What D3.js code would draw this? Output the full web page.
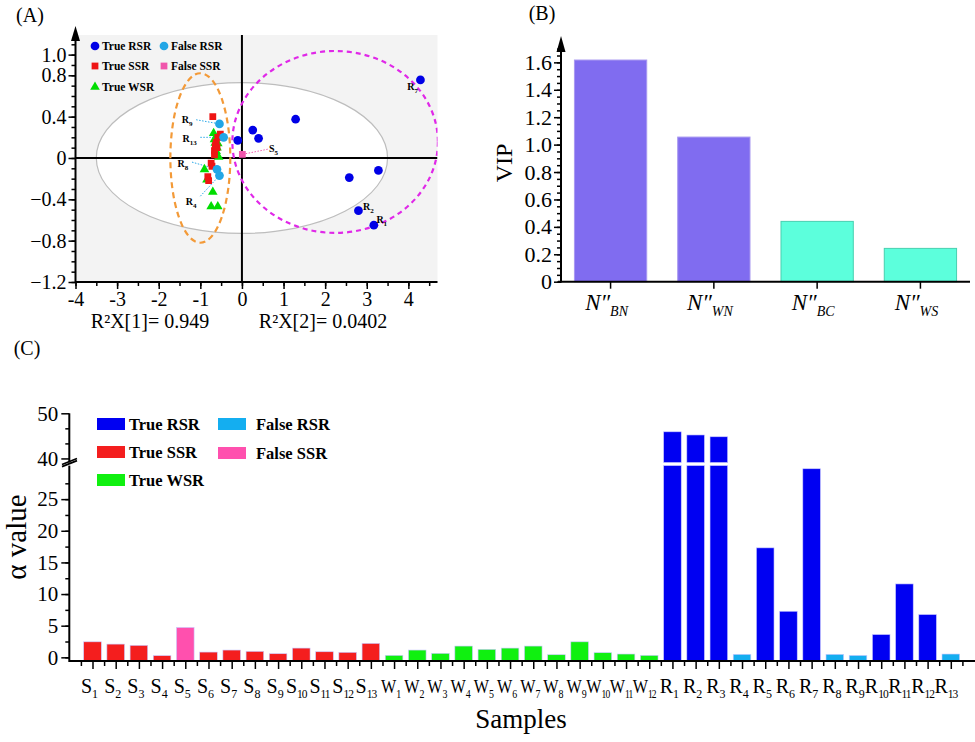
<!DOCTYPE html>
<html><head><meta charset="utf-8">
<script src="https://cdn.jsdelivr.net/npm/d3@7"></script>
<style>
body{margin:0;background:#fff}
svg{display:block}
text{font-family:"Liberation Serif","Times New Roman",serif;fill:#000}
</style>
</head><body><svg id="c" width="975" height="742"></svg>
<script>
// ---------- DATA ----------
// Panel A: PLS-DA score plot (t[1], t[2])
const trueRSR  = [[4.29,0.755],[1.29,0.375],[0.26,0.27],[0.40,0.19],[-0.10,0.17],[3.28,-0.12],[2.58,-0.19],[2.80,-0.51],[3.17,-0.65]];
const falseRSR = [[-0.54,0.33],[-0.44,0.20],[-0.60,-0.11],[-0.54,-0.17]];
const trueSSR  = [[-0.70,0.40],[-0.52,0.23],[-0.58,0.20],[-0.62,0.15],[-0.66,0.07],[-0.60,0.10],[-0.74,-0.05],[-0.72,-0.08],[-0.82,-0.18],[-0.80,-0.22],[-0.64,0.12],[-0.66,0.03]];
const falseSSR = [[0.01,0.035]];
const trueWSR  = [[-0.68,0.24],[-0.64,0.145],[-0.58,0.14],[-0.62,0.065],[-0.60,0.10],[-0.56,0.01],[-0.90,-0.11],[-0.84,-0.21],[-0.70,-0.33],[-0.74,-0.47],[-0.58,-0.47],[-0.66,0.18]];
// point annotations: label, subscript, label pos, optional leader line start, target point
const pointLabels = [
  {t:"R",s:"9",  x:-1.32,y:0.38, lx:-1.10,ly:0.37, px:-0.54,py:0.33, c:"#2aa8e8"},
  {t:"R",s:"13", x:-1.26,y:0.19, lx:-1.00,ly:0.20, px:-0.44,py:0.20, c:"#2aa8e8"},
  {t:"R",s:"8",  x:-1.42,y:-0.05,lx:-1.20,ly:-0.04,px:-0.60,py:-0.11,c:"#2aa8e8"},
  {t:"R",s:"4",  x:-1.22,y:-0.42,lx:-1.00,ly:-0.37,px:-0.54,py:-0.17,c:"#2aa8e8"},
  {t:"S",s:"5",  x:0.76, y:0.10, lx:0.62, ly:0.085,px:0.01, py:0.035,c:"#f060b0"},
  {t:"R",s:"7",  x:4.10, y:0.70},
  {t:"R",s:"2",  x:3.04, y:-0.46},
  {t:"R",s:"1",  x:3.36, y:-0.59}
];
const xTicksA = [-4,-3,-2,-1,0,1,2,3,4];
const yTicksA = [1.0,0.8,0.4,0,-0.4,-0.8,-1.2];
const r2x1 = "0.949", r2x2 = "0.0402";

// Panel B: VIP
const vipVars = ["BN","WN","BC","WS"];
const vipValues = [1.617,1.055,0.44,0.243];
const yTicksB = [0,0.2,0.4,0.6,0.8,1.0,1.2,1.4,1.6];

// Panel C: alpha values
const sampleLetters = ["S","S","S","S","S","S","S","S","S","S","S","S","S","W","W","W","W","W","W","W","W","W","W","W","W","R","R","R","R","R","R","R","R","R","R","R","R","R"];
const sampleNums = [1,2,3,4,5,6,7,8,9,10,11,12,13,1,2,3,4,5,6,7,8,9,10,11,12,1,2,3,4,5,6,7,8,9,10,11,12,13];
const alphaValues = [2.45,2.09,1.89,0.26,4.72,0.83,1.15,0.94,0.57,1.46,0.88,0.79,2.2,
  0.31,1.15,0.63,1.78,1.26,1.46,1.78,0.41,2.45,0.73,0.52,0.31,
  45.9,45.2,44.8,0.47,17.3,7.28,29.8,0.47,0.30,3.6,11.6,6.76,0.52];
const sampleClass = ["TS","TS","TS","TS","FS","TS","TS","TS","TS","TS","TS","TS","TS",
  "TW","TW","TW","TW","TW","TW","TW","TW","TW","TW","TW","TW",
  "TR","TR","TR","FR","TR","TR","TR","FR","FR","TR","TR","TR","FR"];
const yTicksCLow = [0,5,10,15,20,25];
const yTicksCHigh = [40,50];

const classNames = {TR:"True RSR",FR:"False RSR",TS:"True SSR",FS:"False SSR",TW:"True WSR"};
const colA = {TR:"#0000e6",FR:"#22a6e6",TS:"#ee1414",FS:"#f055ac",TW:"#00dd00"};
const colC = {TR:"#0000f2",FR:"#14aef0",TS:"#f41e1e",FS:"#ff50ae",TW:"#10f010"};

// ---------- DRAW ----------
const SERIF = '"Liberation Serif","Times New Roman",serif';
const svg = d3.select("#c").attr("font-family",SERIF);
function styleAxis(g, fs){
  g.attr("font-family",SERIF).attr("font-size",fs);
  g.selectAll("path.domain").remove();
  g.selectAll("line").attr("stroke","#000").attr("stroke-width",1.5);
  g.selectAll("text").attr("font-family",SERIF).style("font-family",SERIF).style("font-size",fs+"px");
}
function subText(g, x, y, main, sub, fs, sfs, opts={}){
  const t = g.append("text").attr("x",x).attr("y",y).style("font-size",fs+"px");
  if(opts.anchor) t.attr("text-anchor",opts.anchor);
  if(opts.bold) t.style("font-weight","bold");
  t.append("tspan").text(main);
  t.append("tspan").attr("dy",opts.dy||fs*0.3).style("font-size",sfs+"px").text(sub);
  return t;
}

// ===== Panel A =====
const xA = d3.scaleLinear().domain([-4,4.7]).range([75.5,437.5]);
const yA = d3.scaleLinear().domain([-1.2,1.19]).range([282,35]);
const gA = svg.append("g");
svg.append("defs").append("clipPath").attr("id","clipA").append("rect")
  .attr("x",xA(-4)).attr("y",yA(1.19)).attr("width",xA(4.7)-xA(-4)).attr("height",yA(-1.2)-yA(1.19));
gA.append("rect").attr("x",xA(-4)).attr("y",yA(1.19)).attr("width",xA(4.7)-xA(-4)).attr("height",yA(-1.2)-yA(1.19)).attr("fill","#f3f3f3");
const gAc = gA.append("g").attr("clip-path","url(#clipA)");
gAc.append("ellipse").attr("cx",xA(0)).attr("cy",yA(0)).attr("rx",xA(3.5)-xA(0)).attr("ry",yA(0)-yA(0.73))
  .attr("fill","#fff").attr("stroke","#bdbdbd").attr("stroke-width",1.2);
gAc.append("line").attr("x1",xA(-4)).attr("x2",xA(4.7)).attr("y1",yA(0)).attr("y2",yA(0)).attr("stroke","#000").attr("stroke-width",2);
gAc.append("line").attr("x1",xA(0)).attr("x2",xA(0)).attr("y1",yA(1.19)).attr("y2",yA(-1.2)).attr("stroke","#000").attr("stroke-width",2);
gAc.append("ellipse").attr("cx",xA(-1.0)).attr("cy",yA(0.0)).attr("rx",xA(0.72)-xA(0)).attr("ry",yA(0)-yA(0.82))
  .attr("fill","none").attr("stroke","#f39a38").attr("stroke-width",2.2).attr("stroke-dasharray","6,4");
gAc.append("ellipse").attr("cx",xA(2.24)).attr("cy",yA(0.155)).attr("rx",xA(2.47)-xA(0)).attr("ry",yA(0)-yA(0.88))
  .attr("fill","none").attr("stroke","#e028e8").attr("stroke-width",2.2).attr("stroke-dasharray","5,4");
// leader lines
pointLabels.filter(d=>d.lx!==undefined).forEach(d=>{
  gAc.append("line").attr("x1",xA(d.lx)).attr("y1",yA(d.ly)).attr("x2",xA(d.px)).attr("y2",yA(d.py))
    .attr("stroke",d.c).attr("stroke-width",1).attr("stroke-dasharray","1.5,1.5");
});
// points
const sym = {circle:d3.symbol().type(d3.symbolCircle).size(60), square:d3.symbol().type(d3.symbolSquare).size(46), tri:d3.symbol().type(d3.symbolTriangle).size(40)};
function drawPts(data, s, c){
  gAc.selectAll(null).data(data).enter().append("path").attr("d",sym[s])
    .attr("transform",d=>`translate(${xA(d[0])},${yA(d[1])})`).attr("fill",c).attr("stroke","none");
}
drawPts(trueWSR,"tri",colA.TW);
drawPts(trueSSR,"square",colA.TS);
drawPts(falseRSR,"circle",colA.FR);
drawPts(falseSSR,"square",colA.FS);
drawPts(trueRSR,"circle",colA.TR);
pointLabels.forEach(d=>{
  subText(gA, xA(d.x), yA(d.y)+4, d.t, d.s, 10, 7, {bold:true, dy:3, anchor:"middle"});
});
// axes
const axAy = gA.append("g").attr("transform",`translate(${xA(-4)},0)`)
  .call(d3.axisLeft(yA).tickValues(d3.range(-12,12).map(v=>v/10)).tickSize(4).tickFormat(""));
styleAxis(axAy,20);
const axAy2 = gA.append("g").attr("transform",`translate(${xA(-4)},0)`)
  .call(d3.axisLeft(yA).tickValues(yTicksA).tickSize(7).tickPadding(2).tickFormat(d=>d===0?"0":d3.format(".1f")(d)));
styleAxis(axAy2,20);
gA.append("line").attr("x1",xA(-4)).attr("x2",xA(-4)).attr("y1",yA(-1.2)+1).attr("y2",yA(1.19)-2).attr("stroke","#000").attr("stroke-width",2);
gA.append("path").attr("d",`M${xA(-4)-4.5},${yA(1.19)+6} L${xA(-4)},${yA(1.19)-9} L${xA(-4)+4.5},${yA(1.19)+6} Z`).attr("fill","#000");
const axAx = gA.append("g").attr("transform",`translate(0,${yA(-1.2)})`)
  .call(d3.axisBottom(xA).tickValues(d3.range(-8,10).map(v=>v/2)).tickSize(4).tickFormat(""));
styleAxis(axAx,20);
const axAx2 = gA.append("g").attr("transform",`translate(0,${yA(-1.2)})`)
  .call(d3.axisBottom(xA).tickValues(xTicksA).tickSize(7).tickPadding(3).tickFormat(d=>String(d)));
styleAxis(axAx2,20);
gA.append("line").attr("x1",xA(-4)).attr("x2",xA(4.7)).attr("y1",yA(-1.2)).attr("y2",yA(-1.2)).attr("stroke","#000").attr("stroke-width",2);
gA.append("text").attr("x",150).attr("y",328).attr("text-anchor","middle").style("font-size","20px").text("R\u00B2X[1]= "+r2x1);
gA.append("text").attr("x",323).attr("y",328).attr("text-anchor","middle").style("font-size","20px").text("R\u00B2X[2]= "+r2x2);
gA.append("text").attr("x",30).attr("y",22).attr("text-anchor","middle").style("font-size","20px").text("(A)");
// legend A
const legA = [["TR","circle",95,46],["FR","circle",164,46],["TS","square",95,66],["FS","square",164,66],["TW","tri",95,87]];
legA.forEach(([k,s,x,y])=>{
  gA.append("path").attr("d",sym[s]).attr("transform",`translate(${x},${y})`).attr("fill",colA[k]);
  gA.append("text").attr("x",x+7).attr("y",y+4).style("font-size","11.5px").style("font-weight","bold").text(classNames[k]);
});

// ===== Panel B =====
const gB = svg.append("g");
const xB = d3.scaleBand().domain(vipVars).range([561,970]).paddingInner(0.3).paddingOuter(0.13);
const yB = d3.scaleLinear().domain([0,1.785]).range([281.7,37]);
gB.selectAll(null).data(vipVars).enter().append("rect")
  .attr("x",d=>xB(d)).attr("width",xB.bandwidth())
  .attr("y",(d,i)=>yB(vipValues[i])).attr("height",(d,i)=>yB(0)-yB(vipValues[i]))
  .attr("fill",(d,i)=>i<2?"#806cf0":"#5cffdc").attr("stroke",(d,i)=>i<2?"#a898f0":"#48d0b0").attr("stroke-width",1);
const axBy1 = gB.append("g").attr("transform","translate(561,0)")
  .call(d3.axisLeft(yB).tickValues(d3.range(0,35).map(v=>v/20)).tickSize(4).tickFormat(""));
styleAxis(axBy1,21);
const axBy2 = gB.append("g").attr("transform","translate(561,0)")
  .call(d3.axisLeft(yB).tickValues(yTicksB).tickSize(7).tickPadding(2).tickFormat(d=>d===0?"0":d3.format(".1f")(d)));
styleAxis(axBy2,22);
gB.append("line").attr("x1",561).attr("x2",561).attr("y1",282.5).attr("y2",44).attr("stroke","#000").attr("stroke-width",2);
gB.append("path").attr("d",`M556.5,52 L561,36 L565.5,52 Z`).attr("fill","#000");
const axBx = gB.append("g").attr("transform","translate(0,281.7)")
  .call(d3.axisBottom(xB).tickSize(7).tickFormat(""));
styleAxis(axBx,20);
gB.append("line").attr("x1",558).attr("x2",970).attr("y1",281.7).attr("y2",281.7).attr("stroke","#000").attr("stroke-width",2);
vipVars.forEach(v=>{
  const t = gB.append("text").attr("x",xB(v)+xB.bandwidth()/2-4).attr("y",310).attr("text-anchor","middle")
    .style("font-size","23px").style("font-style","italic");
  t.append("tspan").text("N\u2033");
  t.append("tspan").attr("dy",6).style("font-size","14px").text(v);
});
gB.append("text").attr("transform","translate(512,163) rotate(-90)").attr("text-anchor","middle").style("font-size","24px").text("VIP");
gB.append("text").attr("x",542).attr("y",20).attr("text-anchor","middle").style("font-size","20px").text("(B)");

// ===== Panel C =====
const gC = svg.append("g");
const xC = d3.scaleLinear().domain([0,39]).range([69.3,974]);
const yLow = d3.scaleLinear().domain([-0.58,30.3]).range([661,465.6]);
const yHigh = d3.scaleLinear().domain([39.1,50]).range([462.5,413.3]);
const bw = 17.6;
const bars = gC.selectAll(null).data(alphaValues).enter().append("g");
bars.append("rect").attr("x",(d,i)=>xC(i+1)-bw/2).attr("width",bw)
  .attr("y",d=>d>30.3?yLow(30.3):yLow(d)).attr("height",d=>yLow(-0.58)-(d>30.3?yLow(30.3):yLow(d)))
  .attr("fill",(d,i)=>colC[sampleClass[i]]).attr("stroke","#c8c8ff").attr("stroke-width",0.6);
bars.filter(d=>d>30.3).append("rect").attr("x",function(){return +d3.select(this.parentNode).select("rect").attr("x");}).attr("width",bw)
  .attr("y",d=>yHigh(d)).attr("height",d=>yHigh(39.1)-yHigh(d))
  .attr("fill","#0000f2").attr("stroke","#c8c8ff").attr("stroke-width",0.6);
// y axis (broken)
const axCl1 = gC.append("g").attr("transform","translate(69.3,0)")
  .call(d3.axisLeft(yLow).tickValues(d3.range(0,12).map(v=>v*2.5)).tickSize(4).tickFormat(""));
styleAxis(axCl1,20);
const axCl2 = gC.append("g").attr("transform","translate(69.3,0)")
  .call(d3.axisLeft(yLow).tickValues(yTicksCLow).tickSize(8).tickPadding(3).tickFormat(d3.format("d")));
styleAxis(axCl2,21);
const axCh1 = gC.append("g").attr("transform","translate(69.3,0)")
  .call(d3.axisLeft(yHigh).tickValues([43.33,46.67]).tickSize(4).tickFormat(""));
styleAxis(axCh1,20);
const axCh2 = gC.append("g").attr("transform","translate(69.3,0)")
  .call(d3.axisLeft(yHigh).tickValues(yTicksCHigh).tickSize(8).tickPadding(3).tickFormat(d3.format("d")));
styleAxis(axCh2,21);
gC.append("line").attr("x1",69.3).attr("x2",69.3).attr("y1",662).attr("y2",yLow(30.3)).attr("stroke","#000").attr("stroke-width",2);
gC.append("line").attr("x1",69.3).attr("x2",69.3).attr("y1",yHigh(39.1)).attr("y2",yHigh(50)).attr("stroke","#000").attr("stroke-width",2);
gC.append("line").attr("x1",62).attr("x2",77).attr("y1",yLow(30.3)+1).attr("y2",yLow(30.3)-5).attr("stroke","#000").attr("stroke-width",1.8);
gC.append("line").attr("x1",62).attr("x2",77).attr("y1",yHigh(39.1)+2).attr("y2",yHigh(39.1)-4).attr("stroke","#000").attr("stroke-width",1.8);
// x axis
const axCx1 = gC.append("g").attr("transform",`translate(0,${yLow(-0.58)})`)
  .call(d3.axisBottom(xC).tickValues(d3.range(0,39).map(v=>v+0.5)).tickSize(5).tickFormat(""));
styleAxis(axCx1,20);
const axCx2 = gC.append("g").attr("transform",`translate(0,${yLow(-0.58)})`)
  .call(d3.axisBottom(xC).tickValues(d3.range(1,39)).tickSize(8).tickFormat(""));
styleAxis(axCx2,20);
gC.append("line").attr("x1",69.3).attr("x2",975).attr("y1",yLow(-0.58)).attr("y2",yLow(-0.58)).attr("stroke","#000").attr("stroke-width",2);
sampleLetters.forEach((L,i)=>{
  const two = sampleNums[i] >= 10;
  const isW = L === "W";
  const cx = xC(i+1)-(two?5:3);
  const t = gC.append("text").attr("x",0).attr("y",0).attr("text-anchor","middle")
    .attr("transform",`translate(${cx},693)`+(isW?" scale(0.83,1)":""))
    .style("font-size",(isW?19.5:20)+"px");
  t.append("tspan").text(L);
  const s = t.append("tspan").attr("dy",5).style("font-size",(two?11.5:12)+"px").text(sampleNums[i]);
  if(two) s.style("letter-spacing","-1px");
});
gC.append("text").attr("x",521).attr("y",728).attr("text-anchor","middle").style("font-size","27px").text("Samples");
gC.append("text").attr("transform","translate(26,537) rotate(-90)").attr("text-anchor","middle").style("font-size","29px").text("\u03B1 value");
gC.append("text").attr("x",27).attr("y",355).attr("text-anchor","middle").style("font-size","20px").text("(C)");
// legend C
const legC = [["TR",97,418],["FR",218,418],["TS",97,446],["FS",218,447],["TW",97,474]];
legC.forEach(([k,x,y])=>{
  gC.append("rect").attr("x",x).attr("y",y).attr("width",28).attr("height",12).attr("fill",colC[k]);
  gC.append("text").attr("x",x+(k[0]==="F"?38:32)).attr("y",y+12).style("font-size","16.5px").style("font-weight","bold").text(classNames[k]);
});
</script></body></html>
